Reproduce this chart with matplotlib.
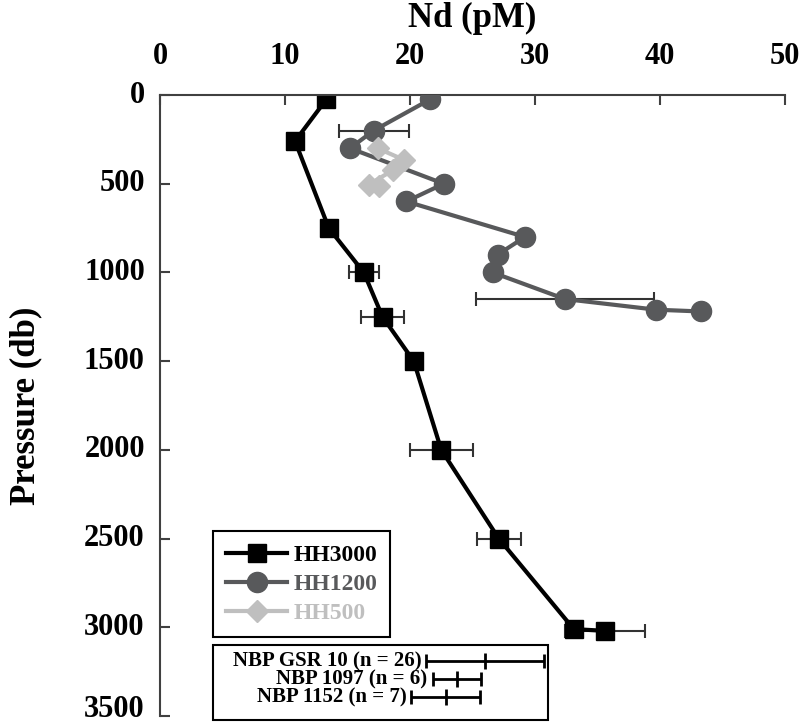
import numpy as np
import matplotlib
matplotlib.use("Agg")
import matplotlib.pyplot as plt
import matplotlib.transforms as mtransforms
from matplotlib.patches import Rectangle

plt.rcParams['font.family'] = ['Liberation Serif', 'DejaVu Serif']
plt.rcParams['font.weight'] = 'bold'

# HH3000 profile
x3000 = np.array([13.3, 10.8, 13.5, 16.3, 17.8, 20.3, 22.5, 27.1, 33.1, 35.6])
y3000 = np.array([25, 260, 750, 1000, 1250, 1500, 2000, 2500, 3010, 3020])
e3000 = np.array([0, 0, 0, 1.2, 1.7, 0, 2.5, 1.75, 0, 3.2])

# HH1200 profile
x1200 = np.array([21.6, 17.1, 15.2, 22.7, 19.7, 29.2, 27.0, 26.6, 32.4, 39.7, 43.3])
y1200 = np.array([25, 200, 300, 500, 600, 800, 900, 1000, 1150, 1210, 1220])
e1200 = np.array([0, 2.8, 0, 0, 0, 0, 0, 0, 7.1, 0, 0])

# HH500 profile
x500 = np.array([17.4, 19.5, 18.6, 16.7, 17.5])
y500 = np.array([300, 365, 425, 505, 515])

# reference ranges (mean +/- sd)
ref_labels = ['NBP GSR 10 (n = 26)', 'NBP 1097 (n = 6)', 'NBP 1152 (n = 7)']
ref_mean = [26.0, 23.75, 22.85]
ref_sd = [4.7, 1.95, 2.75]
ref_y = [3190, 3292, 3393]

c3000 = '#000000'
c1200 = '#58595b'
c500 = '#bfbfbf'
ecol = '#333333'

fig = plt.figure(figsize=(8.03, 7.27), dpi=100)
ax = fig.add_axes([0.1993, 0.0151, 0.7783, 0.8542])

# error bars (only where there is one)
m = e3000 > 0
ax.errorbar(x3000[m], y3000[m], xerr=e3000[m], fmt='none', ecolor=ecol,
            elinewidth=1.5, capsize=5, capthick=1.5, zorder=1)
m = e1200 > 0
ax.errorbar(x1200[m], y1200[m], xerr=e1200[m], fmt='none', ecolor=ecol,
            elinewidth=1.5, capsize=5, capthick=1.5, zorder=1)

ax.plot(x3000, y3000, color=c3000, lw=3, marker='s', ms=13, label='HH3000', zorder=2)
ax.plot(x1200, y1200, color=c1200, lw=3, marker='o', ms=14.5, label='HH1200', zorder=3)
ax.plot(x500, y500, color=c500, lw=3, marker='D', ms=11, label='HH500', zorder=4)

ax.set_xlim(0, 50)
ax.set_ylim(3500, 0)
ax.set_xticks(np.arange(0, 51, 10))
ax.set_yticks(np.arange(0, 3501, 500))

ax.xaxis.tick_top()
ax.xaxis.set_label_position('top')
ax.spines['right'].set_visible(False)
ax.spines['bottom'].set_visible(False)
for s in ['left', 'top']:
    ax.spines[s].set_color('#404040')
    ax.spines[s].set_linewidth(1.5)
ax.tick_params(axis='x', direction='in', length=7, width=1.5, color='#404040',
               labelsize=22, pad=17)
ax.tick_params(axis='y', direction='in', length=7, width=1.5, color='#404040',
               labelsize=22, pad=11)
ylabs = ax.get_yticklabels()
for t in ylabs:
    t.set_verticalalignment('center')
# lift the bottom label a little so it stays inside the figure
last = ylabs[-1]
last.set_transform(last.get_transform() +
                   mtransforms.ScaledTranslation(0, 5 / 72, fig.dpi_scale_trans))

ax.set_xlabel('Nd (pM)', fontsize=25, fontweight='bold', labelpad=11)
ax.set_ylabel('Pressure (db)', fontsize=25, fontweight='bold', labelpad=30)

leg = ax.legend(loc='lower left', bbox_to_anchor=(0.0848, 0.127), borderaxespad=0,
                fontsize=17, handlelength=2.6, handletextpad=0.25, labelspacing=0.32,
                borderpad=0.55, fancybox=False, edgecolor='black', framealpha=1,
                labelcolor='linecolor')
leg.get_frame().set_linewidth(1.5)

# second box with reference ranges
ax.add_patch(Rectangle((0.0848, -0.006), 0.536, 0.120, transform=ax.transAxes,
                       fill=False, edgecolor='black', lw=1.5, clip_on=False, zorder=5))
for lab, mu, sd, yy in zip(ref_labels, ref_mean, ref_sd, ref_y):
    ax.errorbar([mu], [yy], xerr=[sd], fmt='|', color='black', ms=12, mew=2,
                elinewidth=2, capsize=5, capthick=1.5, zorder=6)
    ax.text(mu - sd - 0.4, yy, lab, ha='right', va='center', fontsize=15,
            fontweight='bold', zorder=6)

fig.savefig('out.png', dpi=100)
